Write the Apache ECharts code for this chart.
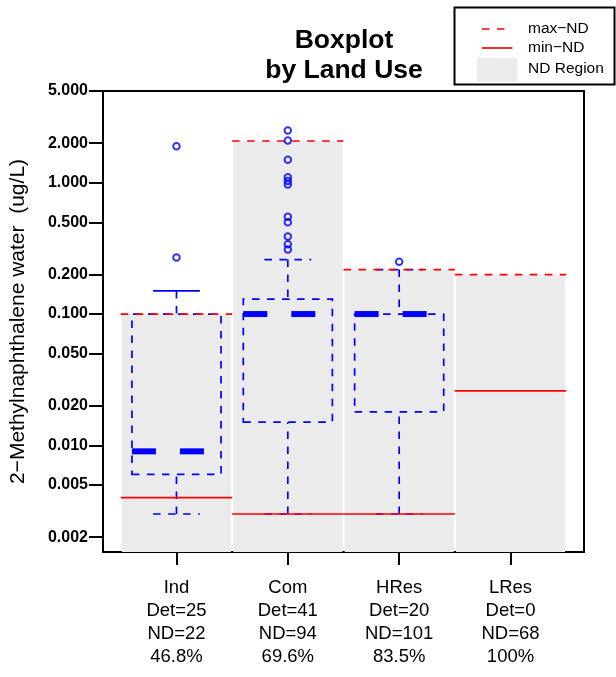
<!DOCTYPE html>
<html><head><meta charset="utf-8">
<script src="https://cdn.jsdelivr.net/npm/echarts@6/dist/echarts.min.js"></script>
<style>html,body{margin:0;padding:0;background:#fff}#c{width:616px;height:677px}</style>
</head><body><div id="c"></div>
<script>
// ---- data ----
const categories = ['Ind', 'Com', 'HRes', 'LRes'];
const detCounts = [25, 41, 20, 0];
const ndCounts = [22, 94, 101, 68];
const ndPercent = ['46.8%', '69.6%', '83.5%', '100%'];
const maxND = [0.1, 2.08, 0.218, 0.2];
const minND = [0.004, 0.003, 0.003, 0.026];
const whiskerLow = [0.003, 0.003, 0.003, null];
const q1 = [0.006, 0.015, 0.018, null];
const median = [0.009, 0.1, 0.1, null];
const q3 = [0.1, 0.13, 0.1, null];
const whiskerHigh = [0.15, 0.26, 0.218, null];
const outliersInd = [1.9, 0.27];
const outliersCom = [2.5, 2.1, 1.5, 1.1, 1.03, 0.97, 0.55, 0.5, 0.39, 0.34, 0.31];
const outliersHRes = [0.25];
const outliersLRes = [];
const yTickValues = [0.002, 0.005, 0.01, 0.02, 0.05, 0.1, 0.2, 0.5, 1, 2, 5];
const yTickLabels = ['0.002', '0.005', '0.010', '0.020', '0.050', '0.100', '0.200', '0.500', '1.000', '2.000', '5.000'];
const yAxisMin = 0.00154, yAxisMax = 5;
const upperStapleSolid = [true, false, false, false];

// ---- helpers ----
const L = v => Math.log10(v);
const LMIN = L(yAxisMin), LMAX = L(yAxisMax);
const BLUE = '#0000ff', RED = '#ff0000', GRAY = '#ebebeb';
const FONT = 'Liberation Sans, Arial, sans-serif';
const yTickLogs = yTickValues.map(L);
const xLabels = categories.map((c, i) => c + '\nDet=' + detCounts[i] + '\nND=' + ndCounts[i] + '\n' + ndPercent[i]);

const grayData = categories.map((c, i) => [i + 1, L(maxND[i])]);
const maxData = categories.map((c, i) => [i + 1, L(maxND[i])]);
const minData = categories.map((c, i) => [i + 1, L(minND[i])]);
const boxData = [];
categories.forEach((c, i) => {
  if (median[i] != null) boxData.push([i + 1, L(whiskerLow[i]), L(q1[i]), L(median[i]), L(q3[i]), L(whiskerHigh[i]), upperStapleSolid[i] ? 1 : 0]);
});
const outlierData = [];
[outliersInd, outliersCom, outliersHRes, outliersLRes].forEach((arr, i) => arr.forEach(v => outlierData.push([i + 1, L(v)])));

const thin = 1.7, dash = [7.5, 7.5];

function seg(p1, p2, style) {
  return { type: 'line', shape: { x1: p1[0], y1: p1[1], x2: p2[0], y2: p2[1] }, style: style };
}

const chart = echarts.init(document.getElementById('c'), null, { renderer: 'canvas' });
chart.setOption({
  animation: false,
  backgroundColor: '#fff',
  title: {
    text: 'Boxplot\nby Land Use',
    left: 344, top: 26, padding: 0, textAlign: 'center',
    textStyle: { fontFamily: FONT, fontSize: 26.5, fontWeight: 'bold', lineHeight: 30, color: '#000' }
  },
  grid: { left: 102, top: 91, width: 482, height: 461, show: true, borderColor: '#000', borderWidth: 2, backgroundColor: 'transparent' },
  xAxis: {
    type: 'value', min: 0.34, max: 4.66,
    axisLine: { show: false, onZero: false },
    splitLine: { show: false },
    axisTick: { show: true, customValues: [1, 2, 3, 4], length: 13, lineStyle: { color: '#000', width: 2 } },
    axisLabel: {
      customValues: [1, 2, 3, 4], margin: 24,
      formatter: v => xLabels[Math.round(v) - 1],
      fontFamily: FONT, fontSize: 18.5, lineHeight: 23, color: '#000'
    }
  },
  yAxis: {
    type: 'value', min: LMIN, max: LMAX,
    name: '2\u2212Methylnaphthalene water  (ug/L)',
    nameLocation: 'middle', nameGap: 74, nameRotate: 90,
    nameTextStyle: { fontFamily: FONT, fontSize: 21, color: '#000' },
    axisLine: { show: true, onZero: false, lineStyle: { color: '#000', width: 2 } },
    splitLine: { show: false },
    axisTick: { show: true, customValues: yTickLogs, length: 14, lineStyle: { color: '#000', width: 2 } },
    axisLabel: {
      customValues: yTickLogs, margin: 15,
      formatter: v => {
        let best = 0, bd = 1e9;
        yTickLogs.forEach((t, k) => { const d = Math.abs(t - v); if (d < bd) { bd = d; best = k; } });
        return yTickLabels[best];
      },
      fontFamily: FONT, fontSize: 16, fontWeight: 'bold', color: '#000'
    }
  },
  series: [
    {
      type: 'custom', name: 'ND Region', z: 1, data: grayData, silent: true,
      renderItem: (params, api) => {
        const x = api.value(0), y = api.value(1);
        const p1 = api.coord([x - 0.49, y]);
        const p2 = api.coord([x + 0.49, LMIN]);
        return { type: 'rect', shape: { x: p1[0], y: p1[1], width: p2[0] - p1[0], height: p2[1] - p1[1] }, style: { fill: GRAY } };
      }
    },
    {
      type: 'custom', name: 'box', z: 2, data: boxData, silent: true,
      renderItem: (params, api) => {
        const x = api.value(0);
        const lo = api.value(1), a = api.value(2), m = api.value(3), b = api.value(4), hi = api.value(5), solidTop = api.value(6);
        const st = { stroke: BLUE, lineWidth: thin, lineDash: dash, fill: null };
        const bl = api.coord([x - 0.4, a]), br = api.coord([x + 0.4, a]);
        const tr = api.coord([x + 0.4, b]), tl = api.coord([x - 0.4, b]);
        const children = [];
        children.push({ type: 'polygon', shape: { points: [bl, br, tr, tl] }, style: st });
        children.push(seg(api.coord([x, lo]), api.coord([x, a]), st));
        children.push(seg(api.coord([x, hi]), api.coord([x, b]), st));
        children.push(seg(api.coord([x - 0.21, lo]), api.coord([x + 0.21, lo]), st));
        children.push(seg(api.coord([x - 0.21, hi]), api.coord([x + 0.21, hi]),
          solidTop ? { stroke: BLUE, lineWidth: thin } : st));
        children.push(seg(api.coord([x - 0.4, m]), api.coord([x + 0.4, m]),
          { stroke: BLUE, lineWidth: 6, lineDash: [24, 24], lineCap: 'butt' }));
        return { type: 'group', children: children };
      }
    },
    {
      type: 'custom', name: 'max-ND', z: 3, data: maxData, silent: true,
      renderItem: (params, api) => {
        const x = api.value(0), y = api.value(1);
        return seg(api.coord([x - 0.5, y]), api.coord([x + 0.5, y]), { stroke: RED, lineWidth: thin, lineDash: dash });
      }
    },
    {
      type: 'custom', name: 'min-ND', z: 3, data: minData, silent: true,
      renderItem: (params, api) => {
        const x = api.value(0), y = api.value(1);
        return seg(api.coord([x - 0.5, y]), api.coord([x + 0.5, y]), { stroke: RED, lineWidth: thin });
      }
    },
    {
      type: 'scatter', name: 'outliers', z: 4, data: outlierData, silent: true,
      symbol: 'circle', symbolSize: 6.5,
      itemStyle: { color: 'rgba(0,0,0,0)', borderColor: BLUE, borderWidth: 2 }
    }
  ],
  graphic: [
    { type: 'rect', z: 10, shape: { x: 454.5, y: 7.5, width: 160, height: 77 }, style: { fill: '#fff', stroke: '#000', lineWidth: 2 } },
    { type: 'line', z: 11, shape: { x1: 482, y1: 29, x2: 512, y2: 29 }, style: { stroke: RED, lineWidth: thin, lineDash: dash } },
    { type: 'line', z: 11, shape: { x1: 482, y1: 48, x2: 512.5, y2: 48 }, style: { stroke: RED, lineWidth: thin } },
    { type: 'rect', z: 11, shape: { x: 477, y: 58, width: 40, height: 23.5 }, style: { fill: GRAY } },
    { type: 'text', z: 11, x: 528, y: 29, style: { text: 'max\u2212ND', fill: '#000', font: '15.5px "Liberation Sans", Arial, sans-serif', verticalAlign: 'middle' } },
    { type: 'text', z: 11, x: 528, y: 48, style: { text: 'min\u2212ND', fill: '#000', font: '15.5px "Liberation Sans", Arial, sans-serif', verticalAlign: 'middle' } },
    { type: 'text', z: 11, x: 528, y: 69, style: { text: 'ND Region', fill: '#000', font: '15.5px "Liberation Sans", Arial, sans-serif', verticalAlign: 'middle' } }
  ]
});
</script>
</body></html>
